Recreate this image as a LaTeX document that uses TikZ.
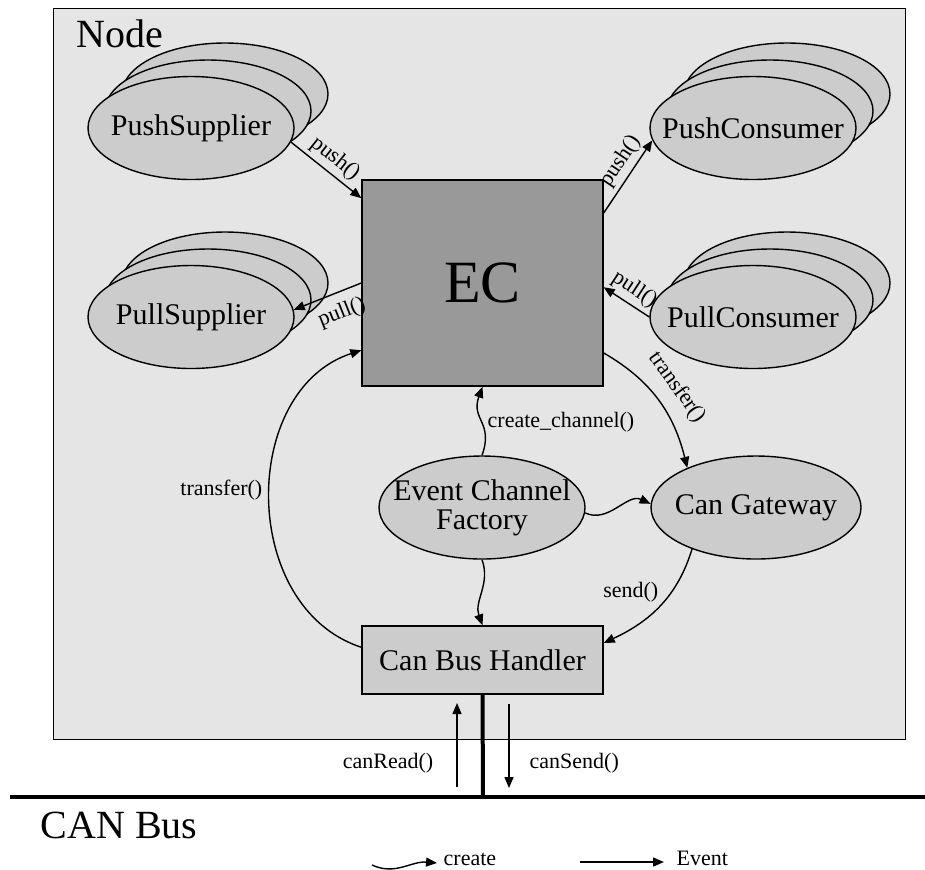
\documentclass[tikz,border=0pt]{standalone}
\usepackage{fontspec}
\setmainfont{Liberation Serif}
\usetikzlibrary{arrows.meta,shapes.geometric,calc}
\definecolor{nodebg}{gray}{0.90}
\definecolor{ellfill}{gray}{0.80}
\definecolor{ecfill}{gray}{0.60}
% back layers of a stacked (multi-instance) component
\newcommand\ellstack[2]{%
  \draw[fill=ellfill] (#1+34,#2-34) ellipse [x radius=51.5pt, y radius=25.5pt];
  \draw[fill=ellfill] (#1+17,#2-17) ellipse [x radius=51.5pt, y radius=25.5pt];
}
\begin{document}
\begin{tikzpicture}[x=0.5pt,y=-0.5pt,line width=0.7pt,
  >={Triangle[length=5.5pt,width=4.5pt]},
  comp/.style={ellipse, draw, fill=ellfill, minimum width=103pt,
    minimum height=51.5pt, inner sep=0pt},
  boxnode/.style={draw, inner sep=0pt},
  big/.style={font=\fontsize{15}{14.5}\selectfont},
  lbl/.style={font=\fontsize{11}{12}\selectfont, inner sep=1pt},
  slbl/.style={lbl, sloped, inner sep=2pt},
  title/.style={font=\fontsize{20}{24}\selectfont, inner sep=0pt, anchor=base west},
  bus/.style={line width=2.4pt},
  stub/.style={line width=2pt}]
\useasboundingbox (0,0) rectangle (925,869);

% the node frame
\node[boxnode, fill=nodebg, minimum width=426pt, minimum height=365.5pt,
  anchor=north west] (frame) at (53,8) {};
\node[title] (nodetitle) at (76,47) {Node};

% stacked suppliers and consumers
\ellstack{191}{128}
\ellstack{191}{317}
\ellstack{753}{128}
\ellstack{753}{317}
\node[comp, label={[big]center:PushSupplier}] (ps) at (191,128) {};
\node[comp, label={[big]center:PullSupplier}] (pls) at (191,317) {};
\node[comp, label={[big]center:PushConsumer}] (pc) at (753,128) {};
\node[comp, label={[big]center:PullConsumer}] (plc) at (753,317) {};

% event channel
\node[boxnode, fill=ecfill, minimum width=120.5pt, minimum height=103pt,
  font=\fontsize{30}{36}\selectfont] (ec) at (482.5,283) {EC};

% factory, gateway, bus handler
\node[comp, label={[big,align=center]center:Event Channel\\Factory}] (ecf) at (482,507.5) {};
\node[comp, minimum width=105pt, label={[big]center:Can Gateway}] (cg) at (756,507.5) {};
\node[boxnode, fill=ellfill, minimum width=120.5pt, minimum height=34pt, big] (cbh) at (482.5,660) {Can Bus Handler};

% event flows
\draw[->] (ps.-8) -- node[slbl, above, pos=0.5] {push()} (ec.145);
\draw[->] (ec.30.5) -- node[slbl, above, pos=0.6] {push()} (pc.187);
\draw[->] (ec.west) -- node[slbl, below=3pt, pos=0.4] {pull()} (pls.4);
\draw[->] (plc.west) -- node[slbl, above, pos=0.5] {pull()} (ec.-2);
\draw[->] (ec.-30.5) to[out=-30,in=104] node[slbl, above=4pt, pos=0.5] {transfer()} (cg.150);
\draw[->] (cbh.174) .. controls +(-122,-40) and +(-122,40) .. (ec.209);
\node[lbl, anchor=base east, inner sep=0pt] (trl) at (263,495) {transfer()};
\draw[->] (cg.213) to[out=-107,in=25] (cbh.8);
\node[lbl, anchor=base east, inner sep=0pt] (sndl) at (659,597) {send()};

% creation relations
\draw[->] (ecf.north) to[out=70,in=-110,looseness=1.3] (ec.south);
\node[lbl, anchor=base west, inner sep=0pt] (ccl) at (487,427) {create\_channel()};
\draw[->] (ecf.-3) to[out=-25,in=155] (cg.178);
\draw[->] (ecf.south) to[out=-70,in=110] (cbh.north);

% CAN bus
\coordinate (busL) at (10,797);
\coordinate (busR) at (925,797);
\coordinate (busJ) at (483,797);
\draw[bus] (busL) -- (busR);
\draw[stub] (cbh.south) -- (busJ);
\node[title] (cantitle) at (40,838) {CAN Bus};

\coordinate (rdA) at (457,787);
\coordinate (rdB) at (457,703);
\draw[->] (rdA) -- (rdB);
\node[lbl, anchor=base east, inner sep=0pt] (rdl) at (434,768) {canRead()};
\coordinate (sdA) at (509,704);
\coordinate (sdB) at (509,788);
\draw[->] (sdA) -- (sdB);
\node[lbl, anchor=base west, inner sep=0pt] (sdl) at (529,768) {canSend()};

% legend
\coordinate (lgA) at (372,865);
\coordinate (lgB) at (437,863);
\draw[->] (lgA) to[out=-25,in=175] (lgB);
\node[lbl, anchor=base west, inner sep=0pt] (lgc) at (443,865) {create};
\coordinate (leA) at (580,862);
\coordinate (leB) at (664,862);
\draw[->] (leA) -- (leB);
\node[lbl, anchor=base west, inner sep=0pt] (lge) at (676,865) {Event};
\end{tikzpicture}
\end{document}
